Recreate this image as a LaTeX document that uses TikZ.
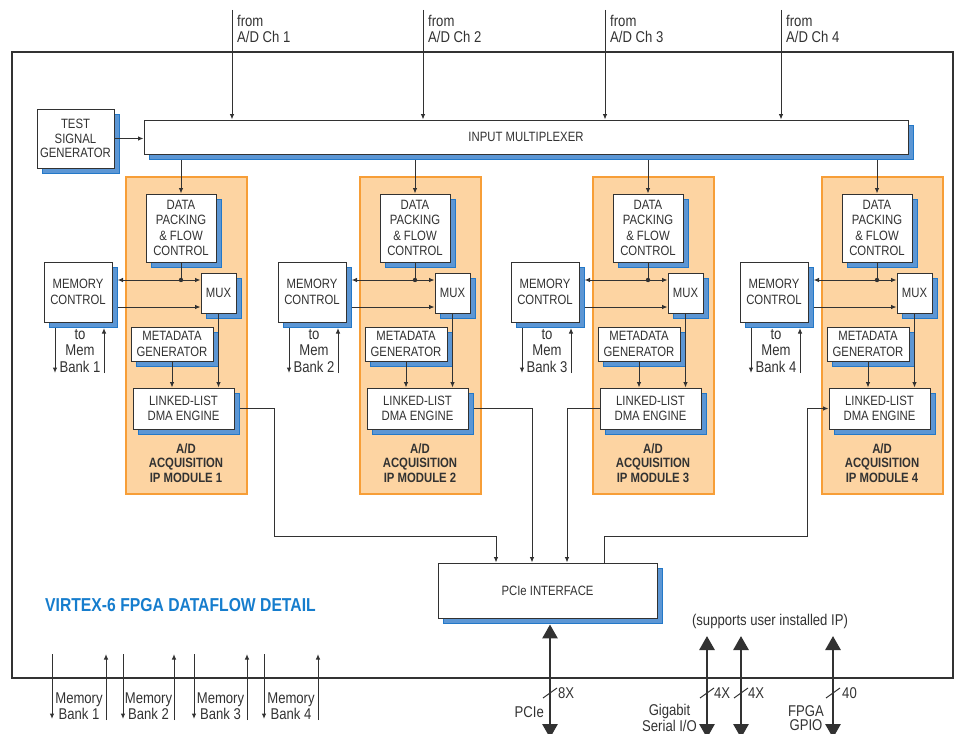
\documentclass[tikz,border=0pt]{standalone}
\usepackage{fontspec}
\setmainfont{Liberation Sans}[FakeStretch=0.84]
\usetikzlibrary{arrows.meta,shadows,calc}
\definecolor{ln}{RGB}{50,50,50}
\definecolor{shb}{RGB}{92,150,212}
\definecolor{shd}{RGB}{35,120,200}
\definecolor{orf}{RGB}{253,212,162}
\definecolor{ord}{RGB}{247,158,55}
\definecolor{ttl}{RGB}{22,125,205}
\newcommand\fnt{\fontsize{13.5}{15.5}\selectfont}
\newcommand\fntb{\fontsize{13.5}{14.5}\selectfont}
\newcommand\fntl{\fontsize{15.6}{16.5}\selectfont}
\newcommand\fntm{\fontsize{15.6}{14.5}\selectfont}
\begin{document}
\begin{tikzpicture}[x=1pt,y=-1pt,
  box/.style={draw=ln, fill=white, line width=0.9pt, inner sep=0pt, align=center, font=\fnt, text=ln,
     drop shadow={shadow xshift=5.5pt, shadow yshift=-5.5pt, fill=shb, draw=shd, opacity=1, line width=0.8pt}},
  conn/.style={draw=ln, line width=1pt},
  arr/.style={conn, -{Latex[length=5.5pt,width=4.5pt]}},
  big/.style={draw=ln, line width=2.8pt, {Triangle[length=14pt,width=15pt]}-{Triangle[length=14pt,width=15pt]}},
  lbl/.style={font=\fnt, text=ln, inner sep=0pt, align=center},
  modbox/.style={fill=orf, draw=ord, line width=1.8pt}]
\useasboundingbox (0,0) rectangle (957,733);
% frame
\draw[ln, line width=1.4pt] (12,52) rectangle (953,678);
% input multiplexer and test signal generator
\node[box, minimum width=764pt, minimum height=34pt] (imux) at (526,137) {INPUT MULTIPLEXER};
\node[box, minimum width=77pt, minimum height=59pt, font=\fntb] (tsg) at (75.5,138.5) {TEST\\SIGNAL\\GENERATOR};
\draw[arr] (tsg.east) -- (tsg.east -| imux.west);
% input channels
\foreach \x/\n in {232/1,423/2,605/3,781/4} {
  \coordinate (ch\n) at (\x,10);
  \draw[arr] (ch\n) -- (ch\n |- imux.north);
  \node[lbl, font=\fntl, anchor=north west, align=left] (from\n) at (\x+5,15) {from\\A/D Ch \n};
}
% modules
\foreach \L/\n in {126/1,360/2,593/3,822/4} {
  \path[modbox] (\L,177) rectangle (\L+121,494);
  \node[box, minimum width=70pt, minimum height=68pt] (dp\n) at (\L+55,228) {DATA\\PACKING\\\& FLOW\\CONTROL};
  \node[box, minimum width=35pt, minimum height=40pt] (mux\n) at (\L+92.5,293) {MUX};
  \node[box, minimum width=68pt, minimum height=60pt] (mc\n) at (\L-48,292) {MEMORY\\CONTROL};
  \node[box, minimum width=82pt, minimum height=34pt] (md\n) at (\L+46,344) {METADATA\\GENERATOR};
  \node[box, minimum width=101pt, minimum height=41pt] (ll\n) at (\L+57.5,408.5) {LINKED-LIST\\DMA ENGINE};
  \node[lbl, font={\fntb\bfseries}] (lab\n) at (\L+60,463) {A/D\\ACQUISITION\\IP MODULE \n};
  \node[lbl, font=\fntl] (mt\n) at (\L-46,351) {to\\Mem\\Bank \n};
  \coordinate (ims\n) at ([yshift=-6pt]imux.south -| dp\n.north);
  \draw[arr] (ims\n) -- (dp\n.north);
  \coordinate (dot\n) at (\L+55,280);
  \draw[conn] (dp\n.south) -- (dot\n);
  \fill[ln] (dot\n) circle (2.2pt);
  \draw[arr] (dot\n) -- (dot\n -| mux\n.west);
  \coordinate (mce\n) at (\L-8.5,280);
  \draw[arr] (dot\n) -- (mce\n);
  \coordinate (r\n) at (\L-8.5,307);
  \draw[arr] (r\n) -- (r\n -| mux\n.west);
  \draw[arr] (mux\n.south) -- (mux\n.south |- ll\n.north);
  \draw[arr] (md\n.south) -- (md\n.south |- ll\n.north);
  \coordinate (mdn\n) at (\L-71,373);
  \coordinate (mdt\n) at (\L-71,328);
  \draw[arr] (mdt\n) -- (mdn\n);
  \coordinate (mub\n) at (\L-22,373);
  \coordinate (mut\n) at (\L-22,328);
  \draw[arr] (mub\n) -- (mut\n);
}
% PCIe interface
\node[box, minimum width=219pt, minimum height=55pt] (pcie) at (547.5,590.5) {PCIe INTERFACE};
\draw[arr] ([xshift=5.5pt]ll1.east) -| (274,536) -| ([xshift=-51.5pt]pcie.north);
\draw[arr] ([xshift=5.5pt]ll2.east) -| ([xshift=-15.5pt]pcie.north);
\draw[arr] (ll3.west) -| ([xshift=19.5pt]pcie.north);
\draw[arr] ([xshift=56.5pt]pcie.north) |- (807,536) |- (ll4.west);
% title
\node[anchor=west, inner sep=0pt, text=ttl, font={\fontsize{18.7}{20}\selectfont\bfseries}] (title) at (45,605) {VIRTEX-6 FPGA DATAFLOW DETAIL};
% big I/O arrows
\coordinate (pb) at (550,738);
\coordinate (pst) at ([yshift=-6pt]pcie.south);
\draw[big] (pb) -- (pst -| pb);
\draw[conn] (543,698) -- (557,688);
\foreach \x/\n in {707/1,741/2,833/3} {
  \coordinate (gt\n) at (\x,636);
  \coordinate (gb\n) at (\x,738);
  \draw[big] (gb\n) -- (gt\n);
  \draw[conn] (\x-7,698) -- (\x+7,688);
}
\node[lbl, font=\fntl, anchor=west] (x8) at (558,693) {8X};
\node[lbl, font=\fntl, anchor=west] (x4a) at (714,693) {4X};
\node[lbl, font=\fntl, anchor=west] (x4b) at (748,693) {4X};
\node[lbl, font=\fntl, anchor=west] (x40) at (842,693) {40};
\node[lbl, font=\fntl, anchor=east] (pcl) at (544,712) {PCIe};
\node[lbl, font=\fntm] (gsl) at (669.5,718) {Gigabit\\Serial I/O};
\node[lbl, font=\fntm] (gpl) at (806,718) {FPGA\\GPIO};
\node[lbl, font=\fntl] (sup) at (770,621) {(supports user installed IP)};
% memory banks at bottom
\foreach \a/\b/\n in {52/106/1,123/174/2,194/247/3,264/318/4} {
  \coordinate (bt\n) at (\a,654);
  \coordinate (bd\n) at (\a,719);
  \draw[arr] (bt\n) -- (bd\n);
  \coordinate (ub\n) at (\b,720);
  \coordinate (ut\n) at (\b,654);
  \draw[arr] (ub\n) -- (ut\n);
  \node[lbl, font=\fntm] (mb\n) at ({(\a+\b)/2},706) {Memory\\Bank \n};
}
\end{tikzpicture}
\end{document}
